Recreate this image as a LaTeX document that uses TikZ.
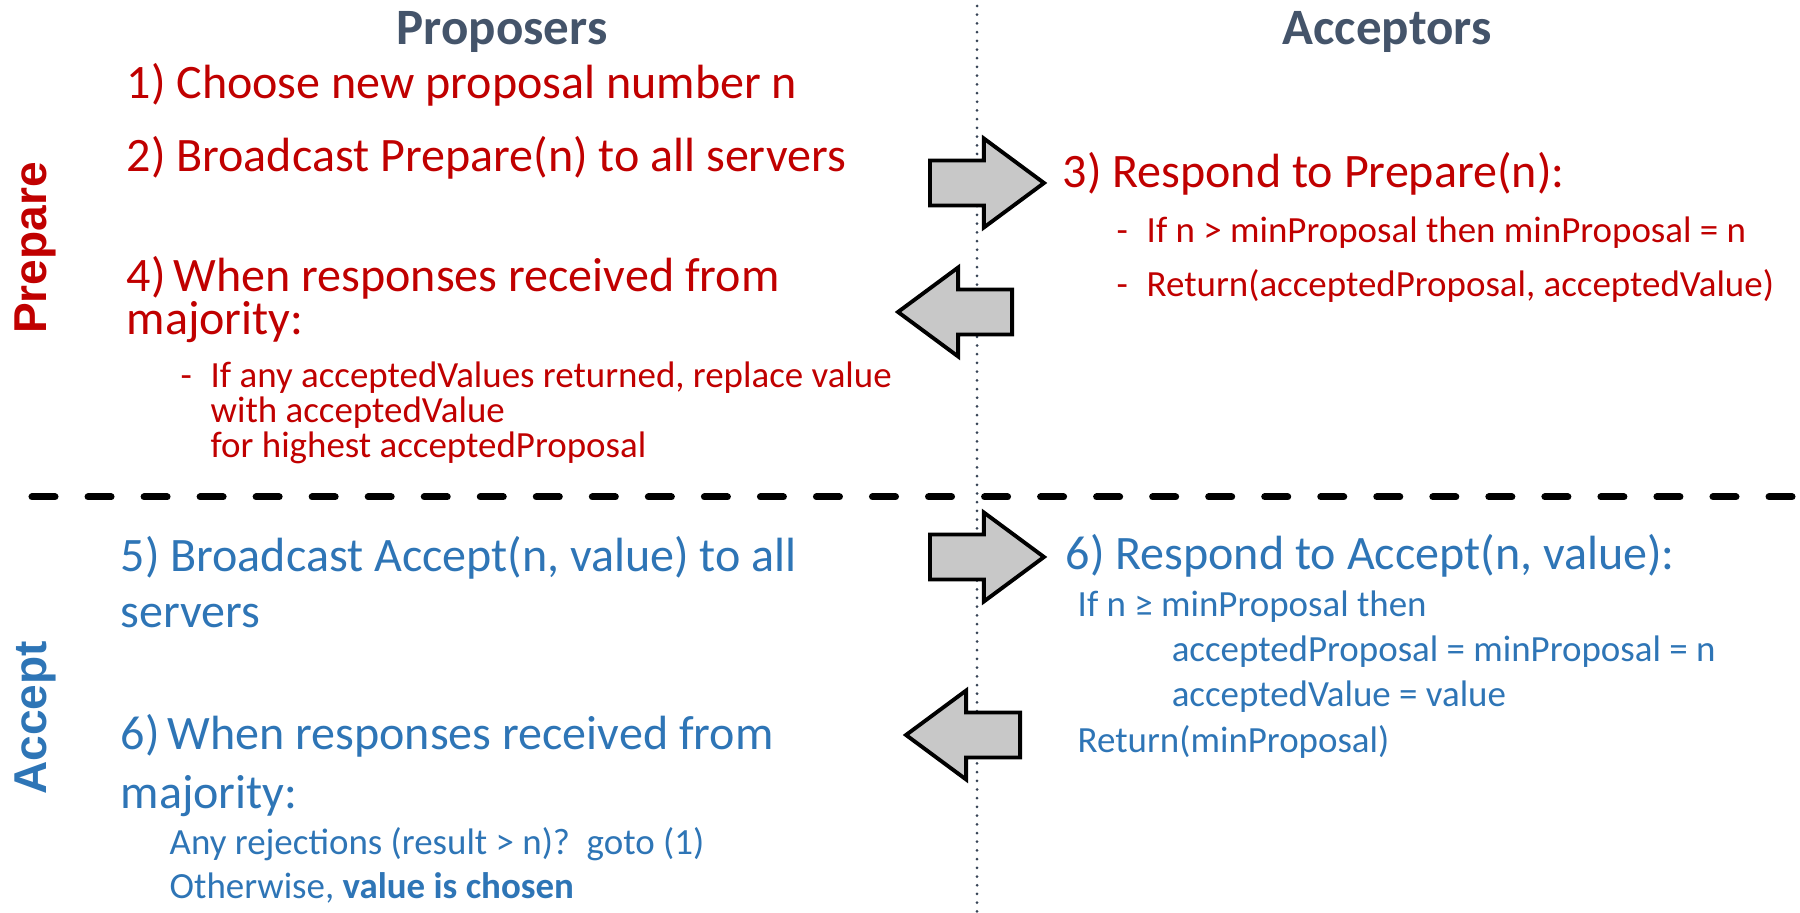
\documentclass[tikz,border=0pt]{standalone}
\usepackage{fontspec}
\setmainfont{Carlito}
\newfontfamily\sidefont{Liberation Sans}
\usetikzlibrary{shapes.arrows}
\definecolor{prepred}{RGB}{192,0,0}
\definecolor{accblue}{RGB}{46,117,182}
\definecolor{slate}{RGB}{68,84,106}
\definecolor{arrowgray}{RGB}{200,200,200}
\newcommand{\bigtext}[1]{\fontsize{13.66}{#1}\selectfont}
\newcommand{\smalltext}[1]{\fontsize{10.5}{#1}\selectfont}
\tikzset{
    header/.style={anchor=base, inner sep=0, text=slate, font=\fontsize{14.5}{17}\selectfont\bfseries},
    phase/.style={anchor=base, rotate=90, inner sep=0, font=\sidefont\fontsize{13.1}{15}\selectfont\bfseries},
    steptext/.style={anchor=base west, align=left, inner sep=0},
    msgarrow/.style={single arrow, draw, line width=1.1pt, fill=arrowgray, anchor=tail, inner xsep=0, inner ysep=0.205cm, minimum height=1.14cm, minimum width=0.85cm, single arrow head extend=0.22cm, single arrow tip angle=73},
    divider/.style={slate!80!black, line width=0.03cm, line cap=round, dash pattern=on 0pt off 0.087cm},
    phaseline/.style={line width=0.07cm, line cap=round, dash pattern=on 0.23cm off 0.33cm}
}
\begin{document}
\begin{tikzpicture}[x=0.01cm, y=-0.01cm]
    \useasboundingbox (0,0) rectangle (1800,913);

    % Dividers
    \draw[divider] (977,6) -- (977,913);
    \draw[phaseline] (32,497) -- (1800,497);

    % Column headers
    \node[header] (proposers) at (502,45) {Proposers};
    \node[header] (acceptors) at (1387,45) {Acceptors};

    % Phase labels
    \node[phase, text=prepred] (prepare) at (46,248) {Prepare};
    \node[phase, text=accblue] (accept) at (46,718) {Accept};

    % Prepare phase (multi-line nodes sit on their last baseline)
    \node[steptext, text=prepred, font=\bigtext{16}] (s1) at (126,99) {1) Choose new proposal number n};
    \node[steptext, text=prepred, font=\bigtext{16}] (s2) at (126,172) {2) Broadcast Prepare(n) to all servers};
    \node[steptext, text=prepred, font=\bigtext{12.23}] (s4) at (126,335) {4)\,When responses received from\\majority:};
    \node[steptext, text=prepred, font=\smalltext{9.96}] (s4sub) at (180,458) {\makebox[0.3cm][l]{-}If any acceptedValues returned, replace value\\\hspace*{0.3cm}with acceptedValue\\\hspace*{0.3cm}for highest acceptedProposal};
    \node[steptext, text=prepred, font=\bigtext{16}] (s3) at (1062,188) {3) Respond to Prepare(n):};
    \node[steptext, text=prepred, font=\smalltext{15.36}] (s3sub) at (1116,297) {\makebox[0.3cm][l]{-}If n > minProposal then minProposal = n\\\makebox[0.3cm][l]{-}Return(acceptedProposal, acceptedValue)};

    % Accept phase
    \node[steptext, text=accblue, font=\bigtext{15.93}] (s5) at (120,628) {5) Broadcast Accept(n, value) to all\\servers};
    \node[steptext, text=accblue, font=\bigtext{16.5}] (s7) at (120,808) {6)\,When responses received from\\majority:};
    \node[steptext, text=accblue, font=\smalltext{12.23}] (s7sub) at (169,898) {Any rejections (result > n)?\ \ goto (1)\\Otherwise, \textbf{value is chosen}};
    \node[steptext, text=accblue, font=\bigtext{16}] (s6) at (1065,570) {6) Respond to Accept(n, value):};
    \node[steptext, text=accblue, font=\smalltext{12.8}] (s6sub) at (1077,752) {If n ≥ minProposal then\\\hspace*{0.94cm}acceptedProposal = minProposal = n\\\hspace*{0.94cm}acceptedValue = value\\Return(minProposal)};

    % Messages (placed by their tails)
    \node[msgarrow] (prepmsg) at (928,183) {};
    \node[msgarrow, shape border rotate=180] (promisemsg) at (1014,312) {};
    \node[msgarrow] (acceptmsg) at (928,557) {};
    \node[msgarrow, shape border rotate=180] (acceptedmsg) at (1022,735) {};
\end{tikzpicture}
\end{document}
